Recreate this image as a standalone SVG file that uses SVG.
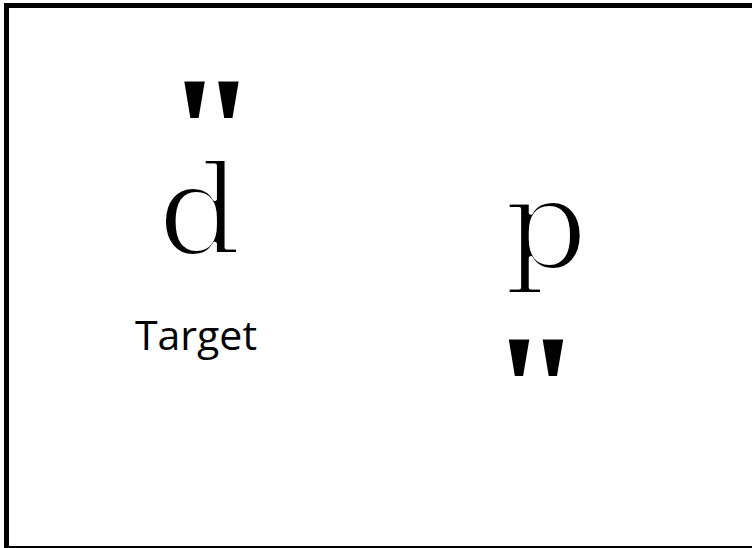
<svg xmlns="http://www.w3.org/2000/svg" width="752" height="548" viewBox="0 0 752 548">
<style>
.g{font-family:"DejaVu Serif",serif;font-size:126px;fill:#000;stroke:#fff;stroke-width:4;stroke-linejoin:round}
.q{font-family:"Liberation Serif",serif;font-weight:bold;font-size:155px;fill:#000;stroke:none}
.lbl{font-family:"Open Sans","Noto Sans",sans-serif;font-size:41px;fill:#000}
</style>
<rect x="0" y="0" width="752" height="548" fill="#fff"/>
<rect x="6.5" y="5.5" width="760" height="543" fill="none" stroke="#000" stroke-width="5"/>
<g id="target">
<text class="g" transform="translate(199.5,254) scale(1.05,1)" text-anchor="middle"><tspan class="q" x="11.4" y="-71">"</tspan><tspan x="0" y="0">d</tspan></text>
<text class="lbl" x="196" y="350" text-anchor="middle">Target</text>
</g>
<g id="p-node">
<text class="g" transform="translate(546,268) scale(1.05,1)" text-anchor="middle"><tspan x="0" y="0">p</tspan><tspan class="q" x="-9.5" y="173">"</tspan></text>
</g>
</svg>
